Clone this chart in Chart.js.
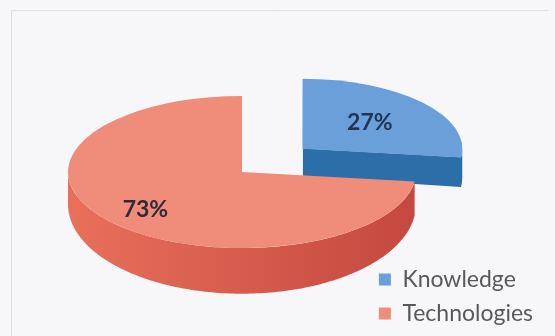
<!DOCTYPE html>
<html>
<head>
<meta charset="utf-8">
<script src="https://cdn.jsdelivr.net/npm/chart.js@4.4.1/dist/chart.umd.min.js"></script>
<style>
  html, body { margin: 0; padding: 0; background: #f7f7f9; }
  canvas { display: block; }
</style>
</head>
<body>
<canvas id="c" width="555" height="336"></canvas>
<script>
// data
const categories = ['Knowledge', 'Technologies'];
const shares = [27, 73];
const topColors = ['#6b9fda', '#f08c7a'];
const sideColorsLeft = ['#2d70a9', '#e8705b'];
const sideColorsRight = ['#2a679d', '#c4483f'];
const cutColors = ['#2c6ea8', '#c95244'];
const labelColors = ['#1f3552', '#2d2b38'];
const explode = [352, 0];

// tilted-disc projection used to render the flat pie as a 3-D pie
const VIEW = {
  cx: 242, cy: 172,        // screen position of the pie centre
  tilt: 0.437,             // vertical squash of the disc
  persp: 0.25,             // slices pushed backwards are drawn a bit smaller
  hBack: 28, yBack: 147,   // side height near the back ...
  hFront: 46, yFront: 250, // ... and at the front edge
  labelAt: [0.56, 0.74]    // label distance from the centre, share of radius
};

function sideHeight(y) {
  return VIEW.hBack + (y - VIEW.yBack) * (VIEW.hFront - VIEW.hBack) / (VIEW.yFront - VIEW.yBack);
}

function geometry(arc) {
  const a0 = arc.startAngle, a1 = arc.endAngle;
  const circ = a1 - a0;
  const base = (arc.options.offset || 0) / 4;
  const fix = 1 - Math.sin(Math.min(Math.PI, circ));
  const mid = (a0 + a1) / 2;
  const d = base * (1 + fix);
  const ox = Math.cos(mid) * d, oy = Math.sin(mid) * d;
  const R = arc.outerRadius;
  const s = 1 + VIEW.persp * oy / R;
  const toScreen = (x, y) => [VIEW.cx + s * (ox + x), VIEW.cy + s * VIEW.tilt * (oy + y)];
  return { a0, a1, mid, R, s, ox, oy, toScreen,
    rim: (t) => toScreen(R * Math.cos(t), R * Math.sin(t)),
    centre: toScreen(0, 0) };
}

function drawOuterSide(ctx, g, lo, hi, grad) {
  if (hi <= lo) return;
  const n = Math.max(8, Math.ceil((hi - lo) / 0.02));
  const top = [];
  for (let i = 0; i <= n; i++) top.push(g.rim(lo + (hi - lo) * i / n));
  ctx.beginPath();
  top.forEach((p, i) => i ? ctx.lineTo(p[0], p[1]) : ctx.moveTo(p[0], p[1]));
  for (let i = top.length - 1; i >= 0; i--) {
    const p = top[i];
    ctx.lineTo(p[0], p[1] + sideHeight(p[1]));
  }
  ctx.closePath();
  ctx.fillStyle = grad;
  ctx.fill();
}

function drawCutFace(ctx, g, t, color) {
  const c = g.centre, r = g.rim(t);
  ctx.beginPath();
  ctx.moveTo(c[0], c[1]);
  ctx.lineTo(r[0], r[1]);
  ctx.lineTo(r[0], r[1] + sideHeight(r[1]));
  ctx.lineTo(c[0], c[1] + sideHeight(c[1]));
  ctx.closePath();
  ctx.fillStyle = color;
  ctx.fill();
}

const framePlugin = {
  id: 'frame',
  beforeDraw(chart) {
    const ctx = chart.ctx;
    ctx.save();
    ctx.strokeStyle = '#dedee3';
    ctx.lineWidth = 1;
    ctx.beginPath();
    ctx.moveTo(11.5, 336);
    ctx.lineTo(11.5, 10.5);
    ctx.lineTo(548, 10.5);
    ctx.stroke();
    ctx.restore();
  }
};

const pie3dPlugin = {
  id: 'pie3d',
  beforeDatasetsDraw(chart) {
    const ctx = chart.ctx;
    const meta = chart.getDatasetMeta(0);
    const items = meta.data.map((arc, i) => ({ arc, i, g: geometry(arc) }))
      .sort((a, b) => a.g.centre[1] - b.g.centre[1]);

    items.forEach(({ arc, i, g }) => {
      ctx.save();
      // cut faces turned towards the viewer
      const nStart = -Math.cos(g.a0);
      const nEnd = Math.cos(g.a1);
      if (nStart > 0.01) drawCutFace(ctx, g, g.a0, cutColors[i]);
      if (nEnd > 0.01) drawCutFace(ctx, g, g.a1, cutColors[i]);

      // front part of the rim
      const left = g.rim(Math.PI)[0], right = g.rim(0)[0];
      const grad = ctx.createLinearGradient(left, 0, right, 0);
      grad.addColorStop(0, sideColorsLeft[i]);
      grad.addColorStop(1, sideColorsRight[i]);
      for (const k of [-2, 0, 2]) {
        const lo = Math.max(g.a0, k * Math.PI);
        const hi = Math.min(g.a1, (k + 1) * Math.PI);
        drawOuterSide(ctx, g, lo, hi, grad);
      }

      // top face: the library's own arc, drawn onto the tilted disc
      ctx.translate(VIEW.cx, VIEW.cy);
      ctx.scale(g.s, g.s * VIEW.tilt);
      ctx.translate(-arc.x, -arc.y);
      arc.draw(ctx);
      ctx.restore();
    });

    // value labels
    ctx.save();
    ctx.font = 'bold 23px Lato, "Open Sans", sans-serif';
    ctx.textAlign = 'center';
    ctx.textBaseline = 'middle';
    items.forEach(({ i, g }) => {
      const r = g.R * VIEW.labelAt[i];
      const p = g.toScreen(r * Math.cos(g.mid), r * Math.sin(g.mid));
      ctx.fillStyle = labelColors[i];
      ctx.fillText(shares[i] + '%', p[0], p[1]);
    });
    ctx.restore();
    return false;
  }
};

new Chart(document.getElementById('c'), {
  type: 'pie',
  data: {
    labels: categories,
    datasets: [{
      data: shares,
      backgroundColor: topColors,
      borderWidth: 0,
      offset: explode
    }]
  },
  options: {
    responsive: false,
    animation: false,
    radius: 174,
    cutout: '0%',
    layout: { padding: { right: 12, bottom: 0 } },
    plugins: {
      tooltip: { enabled: false },
      legend: {
        position: 'right',
        align: 'end',
        labels: {
          boxWidth: 12,
          boxHeight: 12,
          padding: 11,
          color: '#595959',
          font: { family: 'Lato', size: 23 }
        }
      }
    }
  },
  plugins: [framePlugin, pie3dPlugin]
});
</script>
</body>
</html>
